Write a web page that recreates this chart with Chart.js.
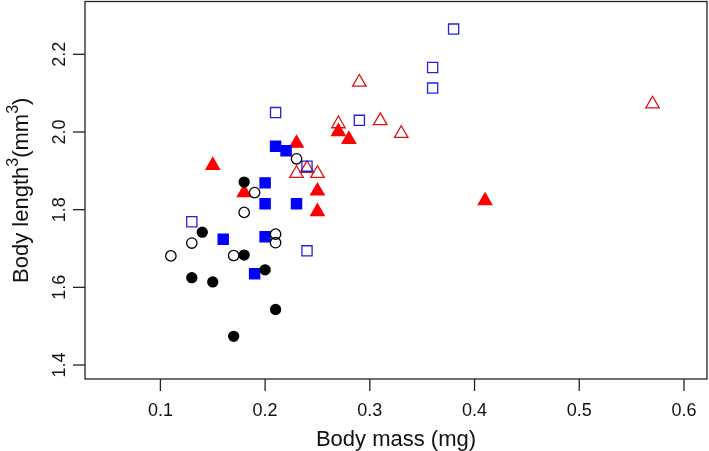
<!DOCTYPE html>
<html>
<head>
<meta charset="utf-8">
<script src="https://cdn.jsdelivr.net/npm/chart.js@4"></script>
<style>
html,body{margin:0;padding:0;background:#fff;}
#c{display:block;}
</style>
</head>
<body>
<canvas id="c" width="709" height="451"></canvas>
<script>
// ---- data ----
const xTicks = [0.1, 0.2, 0.3, 0.4, 0.5, 0.6];
const yTicks = [1.4, 1.6, 1.8, 2.0, 2.2];
const xTitle = "Body mass (mg)";
// y title pieces: [text, isSuperscript]
const yTitleParts = [["Body length", false], ["3", true], ["(mm", false], ["3", true], [")", false]];

const filledCircleX = [0.18, 0.14, 0.18, 0.20, 0.13, 0.15, 0.21, 0.17];
const filledCircleY = [1.871, 1.742, 1.683, 1.645, 1.625, 1.614, 1.543, 1.474];
const openCircleX = [0.23, 0.19, 0.18, 0.13, 0.21, 0.21, 0.11, 0.17];
const openCircleY = [1.931, 1.844, 1.793, 1.714, 1.737, 1.715, 1.681, 1.682];
const filledSquareX = [0.21, 0.22, 0.20, 0.20, 0.23, 0.16, 0.20, 0.19];
const filledSquareY = [1.963, 1.952, 1.869, 1.815, 1.815, 1.724, 1.730, 1.635];
const openSquareX = [0.38, 0.36, 0.36, 0.21, 0.29, 0.24, 0.13, 0.24];
const openSquareY = [2.265, 2.166, 2.113, 2.050, 2.030, 1.912, 1.769, 1.694];
const filledTriangleX = [0.15, 0.23, 0.27, 0.28, 0.18, 0.25, 0.25, 0.41];
const filledTriangleY = [1.914, 1.971, 2.001, 1.981, 1.844, 1.848, 1.795, 1.823];
const openTriangleX = [0.29, 0.57, 0.27, 0.31, 0.33, 0.23, 0.24, 0.25];
const openTriangleY = [2.128, 2.072, 2.021, 2.029, 1.996, 1.893, 1.906, 1.893];

function pts(xs, ys){ return xs.map((x,i)=>({x:x, y:ys[i]})); }

const FONT = "'Liberation Sans', Arial, Helvetica, sans-serif";

const axesPlugin = {
  id: 'rAxes',
  afterDraw(chart){
    const ctx = chart.ctx;
    const a = chart.chartArea;
    const xs = chart.scales.x, ys = chart.scales.y;
    ctx.save();
    ctx.strokeStyle = '#222';
    ctx.lineWidth = 1.3;
    ctx.strokeRect(a.left, a.top, a.right - a.left, a.bottom - a.top);
    ctx.fillStyle = '#111';
    // x ticks
    ctx.font = '18px ' + FONT;
    ctx.textAlign = 'center';
    ctx.textBaseline = 'alphabetic';
    xTicks.forEach(v => {
      const px = xs.getPixelForValue(v);
      ctx.beginPath();
      ctx.moveTo(px, a.bottom);
      ctx.lineTo(px, a.bottom + 12);
      ctx.stroke();
      ctx.fillText(v.toFixed(1), px, a.bottom + 37);
    });
    // y ticks
    yTicks.forEach(v => {
      const py = ys.getPixelForValue(v);
      ctx.beginPath();
      ctx.moveTo(a.left, py);
      ctx.lineTo(a.left - 12, py);
      ctx.stroke();
      ctx.save();
      ctx.translate(a.left - 20, py);
      ctx.rotate(-Math.PI/2);
      ctx.fillText(v.toFixed(1), 0, 0);
      ctx.restore();
    });
    // x title
    ctx.font = '22px ' + FONT;
    ctx.fillText(xTitle, (a.left + a.right)/2, a.bottom + 67);
    // y title with superscripts
    const big = '22px ' + FONT, small = '16px ' + FONT;
    let total = 0;
    yTitleParts.forEach(([t, sup]) => { ctx.font = sup ? small : big; total += ctx.measureText(t).width; });
    ctx.save();
    ctx.translate(28, (a.top + a.bottom)/2);
    ctx.rotate(-Math.PI/2);
    ctx.textAlign = 'left';
    let cx = -total/2;
    yTitleParts.forEach(([t, sup]) => {
      ctx.font = sup ? small : big;
      ctx.fillText(t, cx, sup ? -10 : 0);
      cx += ctx.measureText(t).width;
    });
    ctx.restore();
    ctx.restore();
  }
};

const ds = (label, data, style, fill, color, r) => ({
  label, data,
  pointStyle: style,
  pointRadius: r,
  pointHoverRadius: r,
  backgroundColor: fill ? color : 'rgba(255,255,255,0)',
  borderColor: color,
  borderWidth: 1.3,
  showLine: false
});

new Chart(document.getElementById('c'), {
  type: 'scatter',
  data: {
    datasets: [
      ds('filled circles', pts(filledCircleX, filledCircleY), 'circle', true, '#000000', 5),
      ds('open circles', pts(openCircleX, openCircleY), 'circle', false, '#000000', 5.2),
      ds('filled squares', pts(filledSquareX, filledSquareY), 'rect', true, '#0000ff', 7.2),
      ds('open squares', pts(openSquareX, openSquareY), 'rect', false, '#2222dd', 7.2),
      ds('filled triangles', pts(filledTriangleX, filledTriangleY), 'triangle', true, '#ff0000', 7.8),
      ds('open triangles', pts(openTriangleX, openTriangleY), 'triangle', false, '#e01010', 7.8)
    ]
  },
  options: {
    responsive: false,
    animation: false,
    devicePixelRatio: 1,
    layout: { autoPadding: false, padding: { left: 85, right: 2, top: 1.5, bottom: 72 } },
    plugins: { legend: { display: false }, tooltip: { enabled: false } },
    scales: {
      x: { type: 'linear', min: 0.028, max: 0.622, display: false },
      y: { type: 'linear', min: 1.364, max: 2.336, display: false }
    }
  },
  plugins: [axesPlugin]
});
</script>
</body>
</html>
